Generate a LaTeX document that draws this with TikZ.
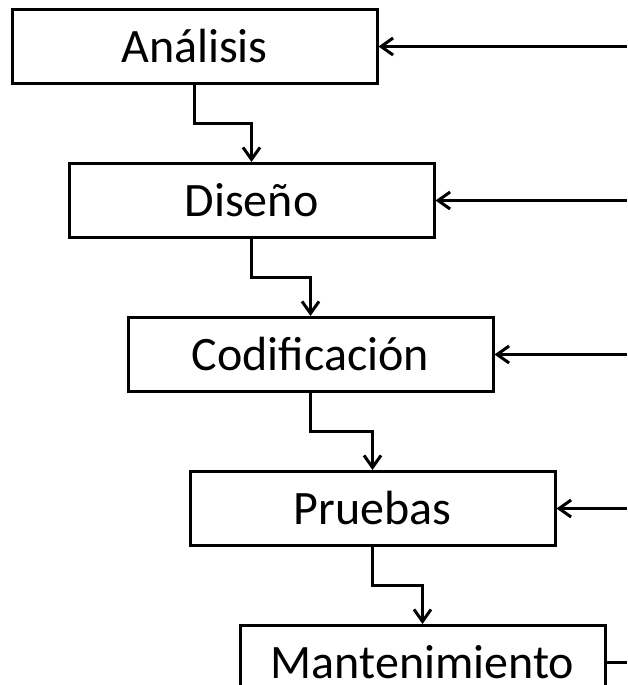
\documentclass[tikz,border=0pt]{standalone}
\usepackage{fontspec}
\setmainfont{Carlito}
\usetikzlibrary{positioning,calc,arrows.meta}

\tikzset{
	stage/.style={minimum height=74pt,minimum width=365pt,inner sep=0pt,draw=black,line width=3pt,font=\fontsize{48}{58}\selectfont},
	flow/.style={line width=3pt,-{Straight Barb[length=12pt,width=17pt]}},
	tail/.style={line width=3pt}
}

\begin{document}
\begin{tikzpicture}
		\useasboundingbox (0,0) rectangle (627pt,-685pt);
		\clip (0,0) rectangle (627pt,-685pt);
		\coordinate (edge) at (627pt,0);
		
		\node[stage] (ana) at (194.5pt,-46.5pt) {Análisis};
		
		\node[stage,below=77pt of ana,xshift=57pt] (dis) {Diseño};
		
		\node[stage,below=77pt of dis,xshift=59pt] (cod) {Codificación};
		
		\node[stage,below=77pt of cod,xshift=62pt] (pru) {Pruebas};
		
		\node[stage,below=77pt of pru,xshift=50pt] (man) {Mantenimiento};
		
		\draw[flow] (ana.south) |- ($(ana.south)!0.5!(dis.north)$) -| (dis.north);
		\draw[flow] (dis.south) |- ($(dis.south)!0.5!(cod.north)$) -| (cod.north);
		\draw[flow] (cod.south) |- ($(cod.south)!0.5!(pru.north)$) -| (pru.north);
		\draw[flow] (pru.south) |- ($(pru.south)!0.5!(man.north)$) -| (man.north);
		
		\foreach \n in {ana,dis,cod,pru}
			\draw[flow] (\n.east -| edge) -- (\n.east);
		\draw[tail] (man.east) -- (man.east -| edge);
	\end{tikzpicture}
\end{document}
